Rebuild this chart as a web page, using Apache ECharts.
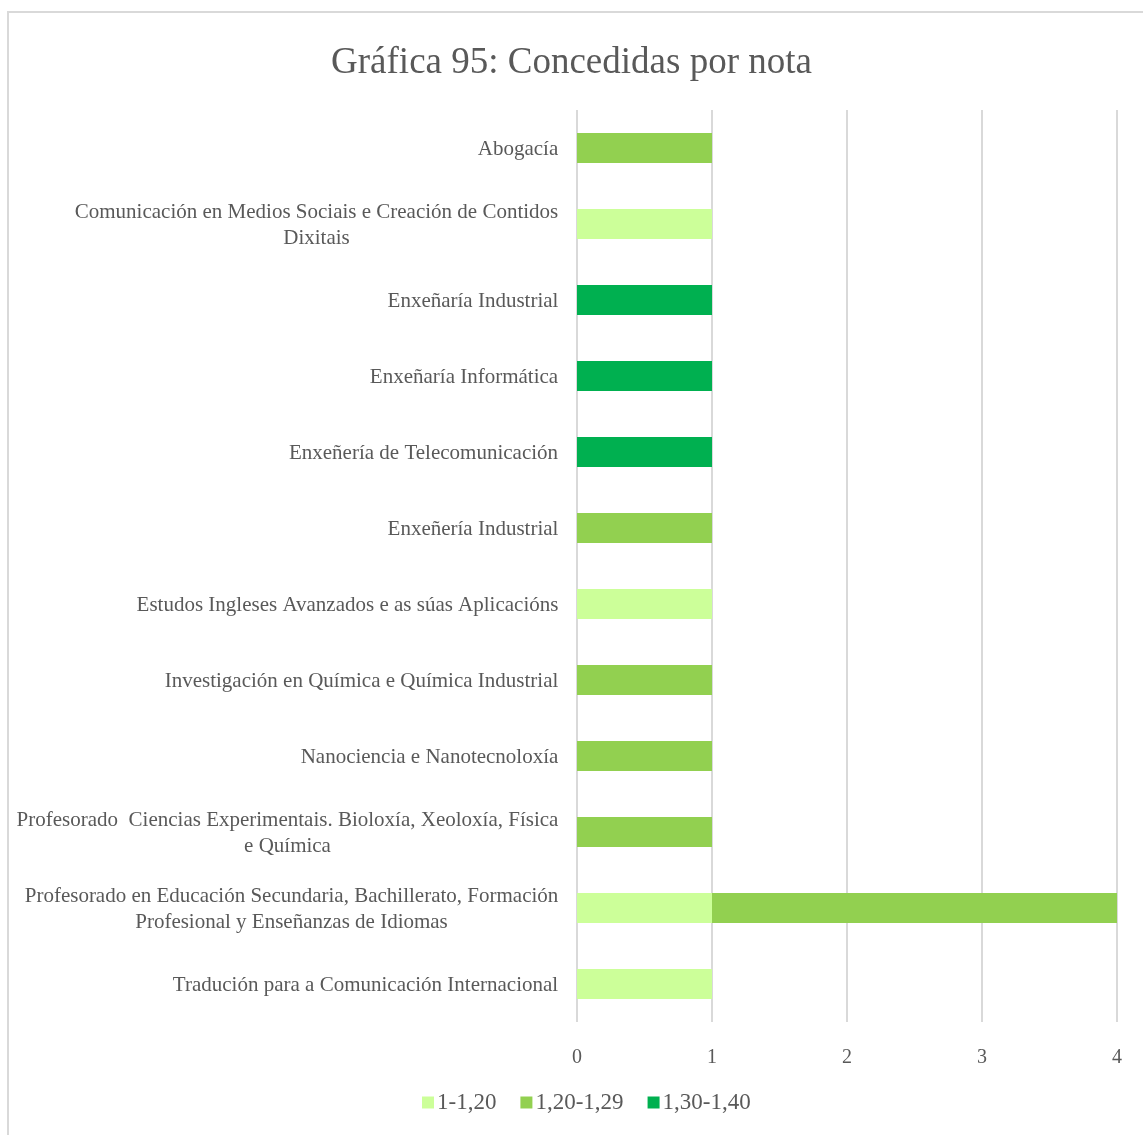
<!DOCTYPE html>
<html>
<head>
<meta charset="utf-8">
<script src="https://cdn.jsdelivr.net/npm/echarts@6/dist/echarts.min.js"></script>
<style>
html,body{margin:0;padding:0;background:#fff;}
#chart{width:1143px;height:1135px;}
</style>
</head>
<body>
<div id="chart"></div>
<script>
const categories = [
  "Abogacía",
  "Comunicación en Medios Sociais e Creación de Contidos\nDixitais",
  "Enxeñaría Industrial",
  "Enxeñaría Informática",
  "Enxeñería de Telecomunicación",
  "Enxeñería Industrial",
  "Estudos Ingleses Avanzados e as súas Aplicacións",
  "Investigación en Química e Química Industrial",
  "Nanociencia e Nanotecnoloxía",
  "Profesorado  Ciencias Experimentais. Bioloxía, Xeoloxía, Física\ne Química",
  "Profesorado en Educación Secundaria, Bachillerato, Formación\nProfesional y Enseñanzas de Idiomas",
  "Tradución para a Comunicación Internacional"
];
const seriesNames = ["1-1,20", "1,20-1,29", "1,30-1,40"];
const s1 = [0, 1, 0, 0, 0, 0, 1, 0, 0, 0, 1, 1];
const s2 = [1, 0, 0, 0, 0, 1, 0, 1, 1, 1, 3, 0];
const s3 = [0, 0, 1, 1, 1, 0, 0, 0, 0, 0, 0, 0];
const xTicks = ["0", "1", "2", "3", "4"];
const colors = ["#CCFF99", "#92D050", "#00B050"];

const FONT = "'Liberation Serif', 'Times New Roman', serif";
const LABEL_SIZE = 21;

// Build per-label rich styles so multi-line labels have centred lines
const cnv = document.createElement('canvas').getContext('2d');
cnv.font = LABEL_SIZE + "px " + FONT;
const rich = {};
categories.forEach((c, i) => {
  const lines = c.split('\n');
  const w = Math.max(...lines.map(l => cnv.measureText(l).width));
  rich['l' + i] = { width: Math.ceil(w) + 1, align: 'center', fontFamily: FONT, fontSize: LABEL_SIZE, color: '#595959', lineHeight: 26 };
});

const chart = echarts.init(document.getElementById('chart'));
const mk = (name, data, idx) => ({
  name: name, type: 'bar', stack: 'total', data: data,
  barWidth: 30,
  itemStyle: { color: colors[idx] },
  emphasis: { disabled: true }
});
chart.setOption({
  animation: false,
  backgroundColor: '#fff',
  title: {
    text: 'Gráfica 95: Concedidas por nota',
    left: 'center', top: 40,
    textStyle: { fontFamily: FONT, fontSize: 37, fontWeight: 'normal', color: '#595959' }
  },
  graphic: [{
    type: 'rect', shape: { x: 8, y: 12, width: 1200, height: 1200 },
    style: { fill: 'none', stroke: '#d9d9d9', lineWidth: 2 }, silent: true, z: -1
  }],
  legend: {
    data: seriesNames, bottom: 16, left: 417,
    itemWidth: 12, itemHeight: 12, itemGap: 24, icon: 'rect',
    textStyle: { fontFamily: FONT, fontSize: 23, color: '#595959', padding: [0, 0, 0, -2] }
  },
  grid: { left: 577, right: 26, top: 110, bottom: 113, containLabel: false },
  xAxis: {
    type: 'value', min: 0, max: 4, interval: 1,
    axisLine: { show: false }, axisTick: { show: false },
    splitLine: { lineStyle: { color: '#d9d9d9', width: 2 } },
    axisLabel: {
      margin: 26, fontFamily: FONT, fontSize: 20, color: '#595959',
      formatter: (v) => xTicks[v]
    }
  },
  yAxis: {
    type: 'category', data: categories, inverse: true,
    axisLine: { show: false }, axisTick: { show: false },
    axisLabel: {
      margin: 18, align: 'right', interval: 0,
      fontFamily: FONT, fontSize: LABEL_SIZE, color: '#595959', lineHeight: 26,
      padding: [3, 0, 0, 0],
      formatter: (v, i) => v.split('\n').map(l => '{l' + i + '|' + l + '}').join('\n'),
      rich: rich
    }
  },
  series: [mk(seriesNames[0], s1, 0), mk(seriesNames[1], s2, 1), mk(seriesNames[2], s3, 2)]
});
</script>
</body>
</html>
